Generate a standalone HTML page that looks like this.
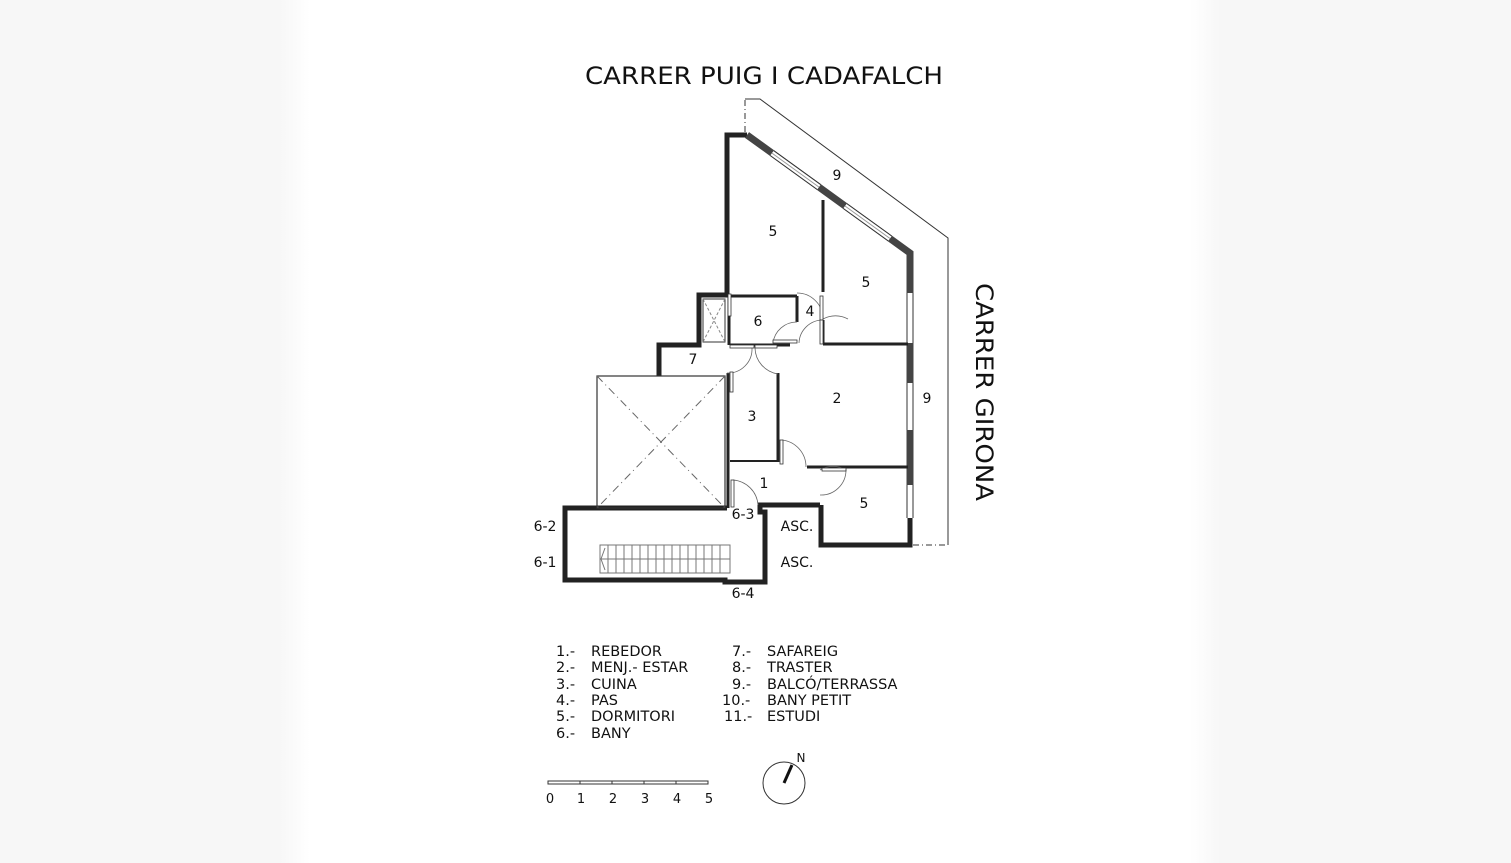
<!DOCTYPE html>
<html><head><meta charset="utf-8"><style>
html,body{margin:0;padding:0}
body{width:1511px;height:863px;overflow:hidden;background:linear-gradient(to right,#f7f7f7 0,#f7f7f7 280px,#fff 310px,#fff 1190px,#f7f7f7 1220px,#f7f7f7 100%)}
svg{position:absolute;left:0;top:0}
text{font-family:"DejaVu Sans","Liberation Sans",sans-serif;fill:#111}
</style></head><body>
<svg width="1511" height="863" viewBox="0 0 1511 863">
<text x="585" y="84" font-size="24" textLength="358" lengthAdjust="spacingAndGlyphs">CARRER PUIG I CADAFALCH</text>
<text transform="translate(976,283) rotate(90)" font-size="24" textLength="218" lengthAdjust="spacingAndGlyphs">CARRER GIRONA</text>

<g fill="none" stroke="#333" stroke-width="1">
<polyline points="745,99 760,99 948,238 948,545"/>
<line x1="745" y1="100" x2="745" y2="133" stroke-dasharray="6,3,1,3"/>
<line x1="913" y1="545" x2="948" y2="545" stroke-dasharray="6,3,1,3"/>
</g>

<g fill="none" stroke="#222" stroke-linejoin="miter">
<polyline points="727,297 727,135 747,135" stroke-width="5"/>
<polyline points="747,135 910,253 910,293" stroke="#444" stroke-width="7"/>
<line x1="910" y1="343" x2="910" y2="383" stroke="#444" stroke-width="7"/>
<line x1="910" y1="430" x2="910" y2="485" stroke="#444" stroke-width="7"/>
<polyline points="910,518 910,545 821,545 821,505" stroke-width="5"/>
<g stroke-width="1" stroke="#333">
<line x1="907" y1="293" x2="907" y2="343"/><line x1="913" y1="293" x2="913" y2="343"/>
<line x1="907" y1="383" x2="907" y2="430"/><line x1="913" y1="383" x2="913" y2="430"/>
<line x1="907" y1="485" x2="907" y2="518"/><line x1="913" y1="485" x2="913" y2="518"/>
</g>
<polyline points="727,295 699,295 699,345 659,345 659,376" stroke-width="5"/>
<polyline points="727,296 797,296" stroke-width="3"/>
<line x1="797" y1="296" x2="797" y2="322" stroke-width="3"/>
<line x1="730" y1="345" x2="790" y2="345" stroke-width="3"/>
<line x1="729" y1="297" x2="729" y2="345" stroke-width="3"/>
<line x1="823" y1="200" x2="823" y2="292" stroke-width="3"/>
<line x1="823" y1="320" x2="823" y2="344" stroke-width="3"/>
<line x1="823" y1="344" x2="908" y2="344" stroke-width="3"/>
<line x1="728" y1="373" x2="728" y2="508" stroke-width="3"/>
<line x1="778" y1="373" x2="778" y2="462" stroke-width="3"/>
<line x1="730" y1="461" x2="778" y2="461" stroke-width="2"/>
<line x1="807" y1="467" x2="908" y2="467" stroke-width="3"/>
<polyline points="727,508 565,508 565,580 725,580 725,582 765,582 765,512 760,512 760,505 820,505" stroke-width="5"/>
</g>
<!-- windows on diagonal -->
<g stroke="#fff" stroke-width="6">
<line x1="772" y1="153.1" x2="819" y2="187.1"/>
<line x1="845" y1="206" x2="890" y2="238.5"/>
</g>
<g stroke="#333" stroke-width="1">
<line x1="770.2" y1="155.5" x2="817.2" y2="189.5"/><line x1="773.8" y1="150.7" x2="820.8" y2="184.7"/>
<line x1="772" y1="153.1" x2="819" y2="187.1" stroke="#999"/>
<line x1="843.2" y1="208.4" x2="888.2" y2="240.9"/><line x1="846.8" y1="203.6" x2="891.8" y2="236.1"/>
<line x1="845" y1="206" x2="890" y2="238.5" stroke="#999"/>
</g>
<rect x="597" y="376" width="128" height="132" fill="none" stroke="#333" stroke-width="1.2"/>
<g stroke="#666" stroke-width="1" stroke-dasharray="8,4,1,4"><line x1="597" y1="376" x2="725" y2="508"/><line x1="725" y1="376" x2="597" y2="508"/></g>
<rect x="703" y="299" width="22" height="43" fill="none" stroke="#333" stroke-width="1"/>
<g stroke="#888" stroke-width="1" stroke-dasharray="3,2"><line x1="703" y1="299" x2="725" y2="342"/><line x1="725" y1="299" x2="703" y2="342"/></g>
<g stroke="#777" stroke-width="1" fill="none">
<rect x="600" y="545" width="130" height="28"/>
<line x1="600" y1="559" x2="730" y2="559"/>
<path d="M608,545 V573 M616,545 V573 M624,545 V573 M632,545 V573 M640,545 V573 M648,545 V573 M656,545 V573 M664,545 V573 M672,545 V573 M680,545 V573 M688,545 V573 M696,545 V573 M704,545 V573 M712,545 V573 M720,545 V573"/>
<polyline points="605,548 601,559 605,570"/>
</g>
<g stroke="#666" stroke-width="0.8" fill="none">
<path d="M797,293 A26,26 0 0 1 823,319"/>
<path d="M823,319 A26,26 0 0 1 848,319"/>
<path d="M797,322 A24,24 0 0 0 773,343"/>
<path d="M823,320 A24,24 0 0 0 799,343"/>
<path d="M727,373 A24,24 0 0 0 752,348"/>
<path d="M755,348 A27,27 0 0 0 778,374"/>
<path d="M782,440 A27,27 0 0 1 806,467"/>
<path d="M820,470 A25,25 0 0 1 846,470 A25,25 0 0 1 820,495"/>
<path d="M733,480 A27,27 0 0 1 758,505"/>
</g>
<g fill="#fff" stroke="#333" stroke-width="0.8">
<rect x="820" y="296" width="3" height="24"/><rect x="820" y="320" width="3" height="24"/>
<rect x="773" y="340" width="24" height="3"/><rect x="730" y="345" width="24" height="3"/>
<rect x="755" y="345" width="22" height="3"/><rect x="730" y="372" width="3" height="20"/>
<rect x="780" y="440" width="3" height="24"/><rect x="822" y="468" width="24" height="3"/>
<rect x="731" y="480" width="3" height="27"/><rect x="728" y="294" width="3" height="22"/>
</g>

<g font-size="14">
<text x="773" y="236" text-anchor="middle">5</text>
<text x="837" y="180" text-anchor="middle">9</text>
<text x="866" y="287" text-anchor="middle">5</text>
<text x="810" y="316" text-anchor="middle">4</text>
<text x="758" y="326" text-anchor="middle">6</text>
<text x="693" y="364" text-anchor="middle">7</text>
<text x="837" y="403" text-anchor="middle">2</text>
<text x="927" y="403" text-anchor="middle">9</text>
<text x="752" y="421" text-anchor="middle">3</text>
<text x="764" y="488" text-anchor="middle">1</text>
<text x="864" y="508" text-anchor="middle">5</text>
<text x="743" y="519" text-anchor="middle">6-3</text>
<text x="797" y="531" text-anchor="middle">ASC.</text>
<text x="797" y="567" text-anchor="middle">ASC.</text>
<text x="545" y="531" text-anchor="middle">6-2</text>
<text x="545" y="567" text-anchor="middle">6-1</text>
<text x="743" y="598" text-anchor="middle">6-4</text>
</g>

<g font-size="14.5">
<text x="556" y="656">1.-</text><text x="591" y="656">REBEDOR</text>
<text x="556" y="672">2.-</text><text x="591" y="672">MENJ.- ESTAR</text>
<text x="556" y="689">3.-</text><text x="591" y="689">CUINA</text>
<text x="556" y="705">4.-</text><text x="591" y="705">PAS</text>
<text x="556" y="721">5.-</text><text x="591" y="721">DORMITORI</text>
<text x="556" y="738">6.-</text><text x="591" y="738">BANY</text>
<text x="732" y="656">7.-</text><text x="767" y="656">SAFAREIG</text>
<text x="732" y="672">8.-</text><text x="767" y="672">TRASTER</text>
<text x="732" y="689">9.-</text><text x="767" y="689">BALCÓ/TERRASSA</text>
<text x="722" y="705">10.-</text><text x="767" y="705">BANY PETIT</text>
<text x="724" y="721">11.-</text><text x="767" y="721">ESTUDI</text>
</g>
<rect x="548" y="781" width="160" height="3" fill="#fff" stroke="#333" stroke-width="1"/>
<g stroke="#333" stroke-width="1"><line x1="580" y1="781" x2="580" y2="784"/><line x1="612" y1="781" x2="612" y2="784"/><line x1="644" y1="781" x2="644" y2="784"/><line x1="676" y1="781" x2="676" y2="784"/></g>
<g font-size="13" text-anchor="middle">
<text x="550" y="803">0</text><text x="581" y="803">1</text><text x="613" y="803">2</text><text x="645" y="803">3</text><text x="677" y="803">4</text><text x="709" y="803">5</text>
</g>
<circle cx="784" cy="783" r="21" fill="none" stroke="#333" stroke-width="1"/>
<line x1="784" y1="783" x2="792" y2="765" stroke="#111" stroke-width="3"/>
<text x="801" y="762" font-size="12" text-anchor="middle">N</text>
</svg>
</body></html>
